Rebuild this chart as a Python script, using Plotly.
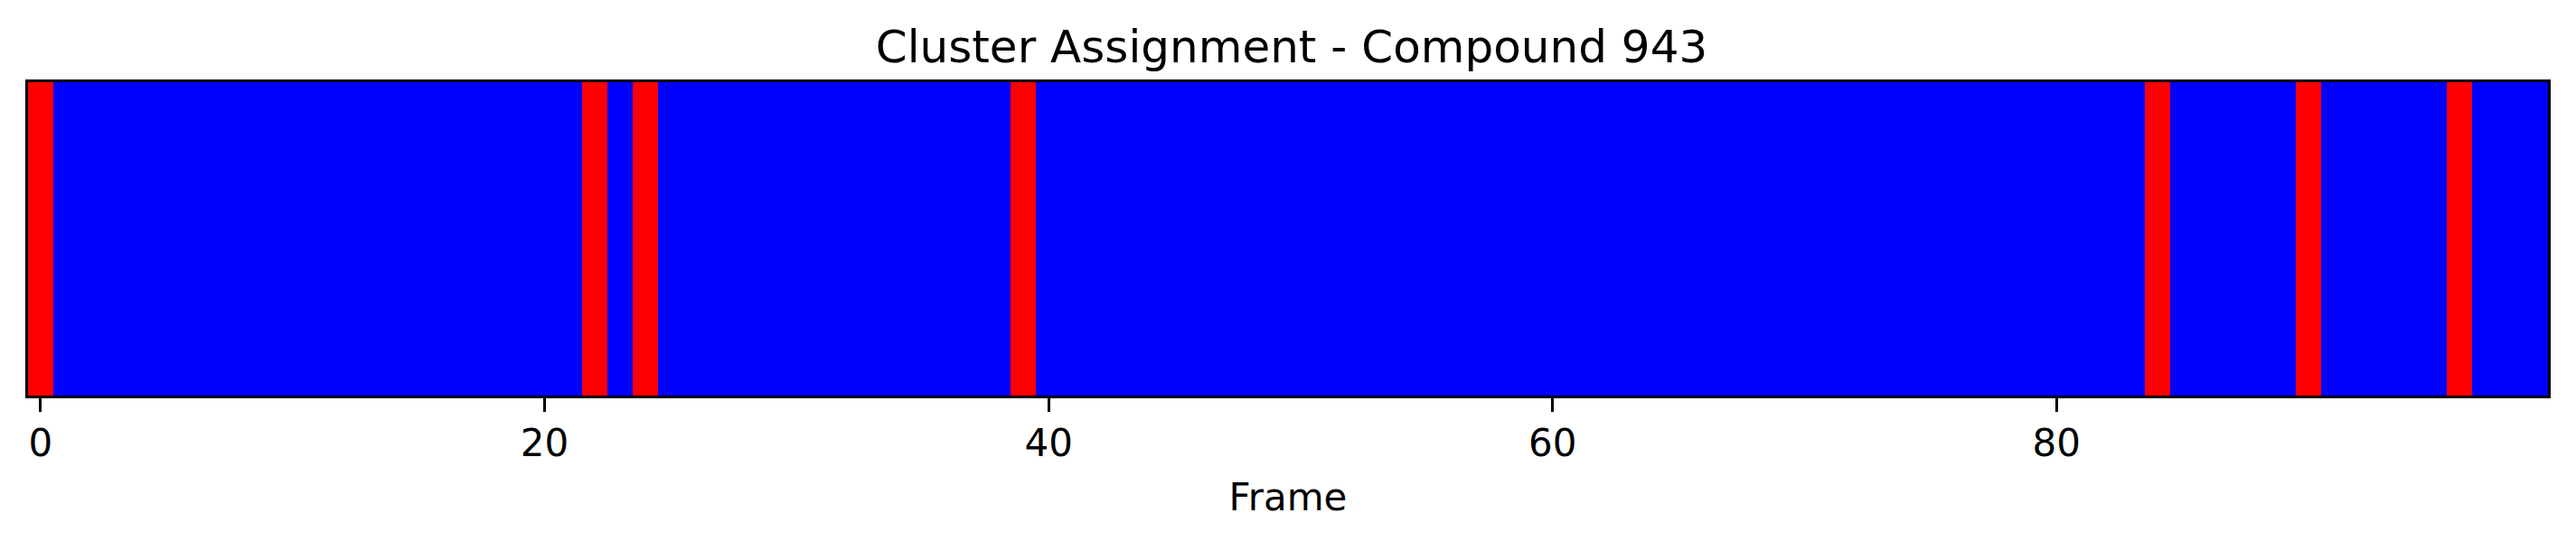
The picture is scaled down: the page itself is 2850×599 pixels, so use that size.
import plotly.graph_objects as go

# Data
frames = list(range(100))
red_frames = [0, 22, 24, 39, 84, 90, 96]
cluster = [1 if f in red_frames else 0 for f in frames]
tick_vals = [0, 20, 40, 60, 80]
tick_text = ["0", "20", "40", "60", "80"]
title_text = "Cluster Assignment - Compound 943"
x_label = "Frame"

# page body has an 8px default margin; compensate so the figure lands in place
OFF = 8
W, H = 2850 - OFF, 599 - OFF
L, R, T, B = 31 - OFF, 2819 - OFF, 91 - OFF, 438 - OFF
FONT = "DejaVu Sans"

fig = go.Figure(
    go.Heatmap(
        z=[cluster],
        x=frames,
        y=[0],
        colorscale=[[0, "#0000ff"], [0.5, "#0000ff"], [0.5, "#ff0000"], [1, "#ff0000"]],
        zmin=0,
        zmax=1,
        showscale=False,
    )
)

fig.update_layout(
    width=W,
    height=H,
    margin=dict(l=L, r=W - R, t=T, b=H - B, pad=0),
    paper_bgcolor="white",
    plot_bgcolor="white",
    font=dict(family=FONT, color="black"),
    title=dict(
        text=title_text,
        font=dict(family=FONT, size=50, color="black"),
        x=0.5,
        xanchor="center",
        y=1 - (51 - OFF) / H,
        yanchor="middle",
    ),
)

fig.update_xaxes(
    range=[-0.5, 99.5],
    tickvals=tick_vals,
    ticktext=tick_text,
    ticks="outside",
    ticklen=15,
    tickwidth=3.3,
    tickcolor="black",
    tickfont=dict(family=FONT, size=42, color="black"),
    ticklabelstandoff=-2,
    showline=True,
    linewidth=3.3,
    linecolor="black",
    mirror=True,
    showgrid=False,
    zeroline=False,
    title=dict(text=x_label, font=dict(family=FONT, size=42, color="black"), standoff=23),
)
fig.update_yaxes(
    range=[-0.5, 0.5],
    showticklabels=False,
    ticks="",
    showline=True,
    linewidth=3.3,
    linecolor="black",
    mirror=True,
    showgrid=False,
    zeroline=False,
)

fig.write_html("out.html")
